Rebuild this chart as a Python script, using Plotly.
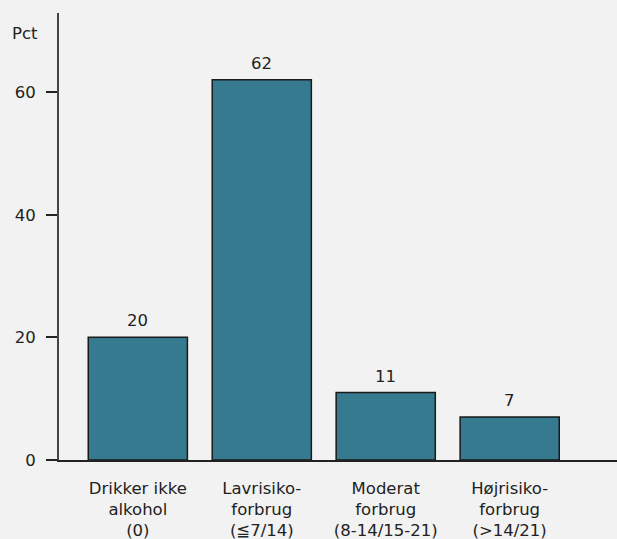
import plotly.graph_objects as go

categories = [
    "Drikker ikke<br>alkohol<br>(0)",
    "Lavrisiko-<br>forbrug<br>(≦7/14)",
    "Moderat<br>forbrug<br>(8-14/15-21)",
    "Højrisiko-<br>forbrug<br>(>14/21)",
]
values = [20, 62, 11, 7]
y_ticks = [0, 20, 40, 60]

FONT = "DejaVu Sans"
FS = 16.5
BG = "#f2f2f2"
TXT = "#222"

fig = go.Figure(
    go.Bar(
        x=list(range(len(categories))),
        y=values,
        width=0.8,
        marker=dict(color="#367a8f", line=dict(color="#1a1a1a", width=1.5)),
        hoverinfo="skip",
    )
)

for i, v in enumerate(values):
    fig.add_annotation(
        x=i, y=v, text=str(v), showarrow=False,
        yanchor="bottom", yshift=5,
        font=dict(family=FONT, size=FS, color=TXT),
    )

fig.add_annotation(
    xref="paper", yref="paper", x=-0.034, y=0.955,
    text="Pct", showarrow=False, xanchor="right", yanchor="middle",
    font=dict(family=FONT, size=FS, color=TXT),
)

fig.update_layout(
    width=617, height=539,
    margin=dict(l=59, r=0, t=13, b=79),
    paper_bgcolor=BG, plot_bgcolor=BG,
    showlegend=False,
    font=dict(family=FONT, size=FS, color=TXT),
    bargap=0.2,
)

fig.update_xaxes(
    tickmode="array",
    tickvals=list(range(len(categories))),
    ticktext=categories,
    tickfont=dict(family=FONT, size=FS, color=TXT),
    range=[-0.636, 3.866],
    showline=True, linecolor="#222", linewidth=1.5,
    ticks="", showgrid=False, zeroline=False,
    ticklabelstandoff=12,
)
fig.update_yaxes(
    range=[0, 72.9],
    tickmode="array", tickvals=y_ticks,
    tickfont=dict(family=FONT, size=FS, color=TXT),
    showline=True, linecolor="#444", linewidth=2,
    ticks="outside", ticklen=11, tickcolor="#222", tickwidth=1.5,
    showgrid=False, zeroline=False,
    ticklabelstandoff=7,
)

fig.write_html("out.html")
